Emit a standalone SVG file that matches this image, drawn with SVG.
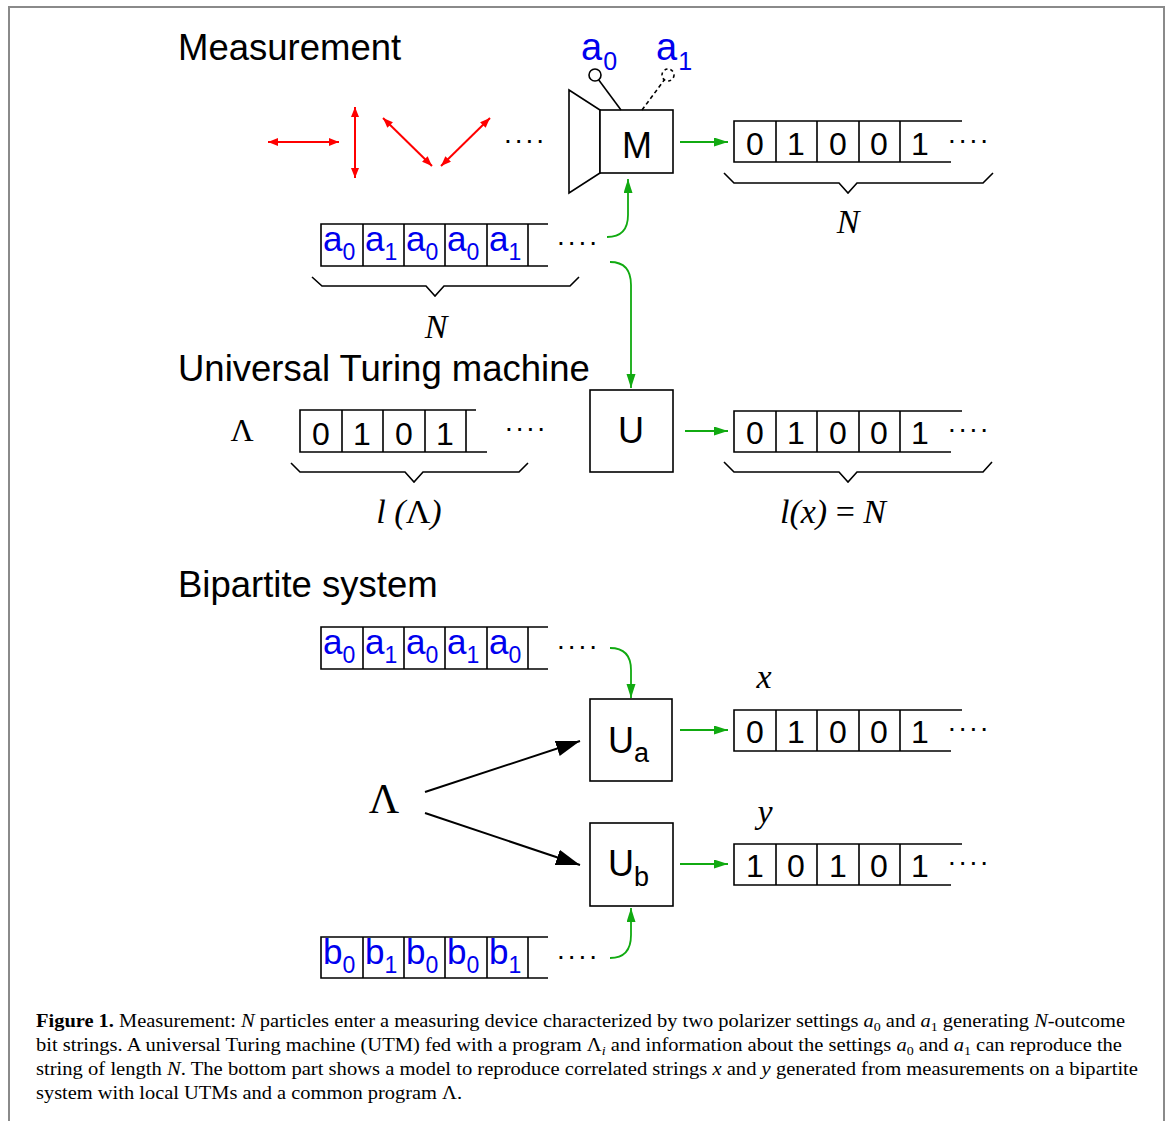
<svg xmlns="http://www.w3.org/2000/svg" width="1168" height="1121" viewBox="0 0 1168 1121">
<defs>
<style>
.t{fill:none;stroke:#000;stroke-width:1.6}
.sans{font-family:"Liberation Sans",Arial,sans-serif}
.serif{font-family:"Liberation Serif","Times New Roman",serif}
.title{font-family:"Liberation Sans",Arial,sans-serif;font-size:36.5px;fill:#000}
.bit{font-family:"Liberation Sans",Arial,sans-serif;font-size:32px;fill:#000;text-anchor:middle}
.al{font-family:"Liberation Sans",Arial,sans-serif;font-size:35px;fill:#0000ee}
.sub{font-size:23px}
.alt{font-family:"Liberation Sans",Arial,sans-serif;font-size:38px;fill:#0000ee}
.subt{font-size:25px}
.dots{font-family:"Liberation Sans",Arial,sans-serif;font-size:28px;letter-spacing:3px;fill:#000}
.box{fill:#fff;stroke:#000;stroke-width:1.6}
.lab{font-family:"Liberation Sans",Arial,sans-serif;font-size:36px;fill:#000}
.math{font-family:"Liberation Serif","Times New Roman",serif;font-style:italic;font-size:34px;fill:#000}
.red{stroke:#ff0000;stroke-width:2;fill:none}
.grn{stroke:#11aa11;stroke-width:1.8;fill:none}
.blk{stroke:#000;stroke-width:2;fill:none}
.cap{font-family:"Liberation Serif","Times New Roman",serif;font-size:19px;fill:#000}
</style>
<marker id="ar" markerUnits="userSpaceOnUse" markerWidth="12" markerHeight="10" refX="10" refY="4" orient="auto-start-reverse"><path d="M0,0 L10,4 L0,8 z" fill="#ff0000"/></marker>
<marker id="ag" markerUnits="userSpaceOnUse" markerWidth="16" markerHeight="12" refX="14" refY="4.5" orient="auto"><path d="M0,0 L14,4.5 L0,9 z" fill="#11aa11"/></marker>
<marker id="ab" markerUnits="userSpaceOnUse" markerWidth="26" markerHeight="18" refX="24" refY="8" orient="auto"><path d="M0,0 L24,8 L0,16 z" fill="#000"/></marker>
</defs>
<rect width="1168" height="1121" fill="#fff"/>
<path d="M9,1121 V7 H1164 V1121" fill="none" stroke="#8a8a8a" stroke-width="2"/>

<text class="title" x="178" y="60">Measurement</text>
<text class="title" x="178" y="381">Universal Turing machine</text>
<text class="title" x="178" y="597">Bipartite system</text>

<g id="polarizations">
<line class="red" x1="268" y1="142" x2="339" y2="142" marker-start="url(#ar)" marker-end="url(#ar)"/>
<line class="red" x1="355" y1="107" x2="355" y2="178" marker-start="url(#ar)" marker-end="url(#ar)"/>
<line class="red" x1="383" y1="118" x2="432" y2="166" marker-start="url(#ar)" marker-end="url(#ar)"/>
<line class="red" x1="441" y1="166" x2="490" y2="118" marker-start="url(#ar)" marker-end="url(#ar)"/>
<text class="dots" x="504" y="143">....</text>
</g>

<g id="M">
<polygon class="t" points="569,90 600,110 600,173 569,193"/>
<rect class="box" x="600" y="110" width="73" height="63"/>
<text class="lab" x="637" y="158" text-anchor="middle">M</text>
<line class="t" x1="621" y1="110" x2="598.6" y2="79.8"/>
<circle class="t" cx="595" cy="75" r="6"/>
<line class="t" x1="642" y1="110" x2="664.4" y2="79.8" stroke-dasharray="4,3"/>
<circle class="t" cx="668" cy="75" r="6" stroke-dasharray="3,3"/>
<text class="alt" x="581" y="60">a<tspan class="subt" dx="1" dy="10">0</tspan></text>
<text class="alt" x="656" y="60">a<tspan class="subt" dx="1" dy="10">1</tspan></text>
</g>

<g id="tapeM-out">
<path class="t" d="M962,121 H734 V162 H951 M776,121 V162 M817,121 V162 M859,121 V162 M900,121 V162"/>
<text class="bit" x="755" y="155">0</text><text class="bit" x="796" y="155">1</text><text class="bit" x="838" y="155">0</text><text class="bit" x="879" y="155">0</text><text class="bit" x="920" y="155">1</text>
<text class="dots" x="948" y="143">....</text>
<polyline class="t" points="724,173 734,183 839,183 848,193 857,183 983,183 993,173"/>
<text class="math" x="848" y="233" text-anchor="middle">N</text>
</g>

<g id="tapeA1">
<path class="t" d="M548,224 H321 V266 H548 M363,224 V266 M404,224 V266 M445,224 V266 M487,224 V266 M528,224 V266"/>
<text class="al" x="323" y="251">a<tspan class="sub" dy="9">0</tspan></text>
<text class="al" x="365" y="251">a<tspan class="sub" dy="9">1</tspan></text>
<text class="al" x="406" y="251">a<tspan class="sub" dy="9">0</tspan></text>
<text class="al" x="447" y="251">a<tspan class="sub" dy="9">0</tspan></text>
<text class="al" x="489" y="251">a<tspan class="sub" dy="9">1</tspan></text>
<text class="dots" x="557" y="245">....</text>
<polyline class="t" points="312,277 322,286 426,286 435,296 444,286 570,286 579,277"/>
<text class="math" x="436" y="338" text-anchor="middle">N</text>
</g>

<g id="U">
<rect class="box" x="590" y="390" width="83" height="82"/>
<text class="lab" x="631" y="443" text-anchor="middle">U</text>
</g>

<g id="program">
<text class="serif" x="242" y="441" font-size="32" text-anchor="middle">Λ</text>
<path class="t" d="M476,410 H300 V452 H487 M342,410 V452 M383,410 V452 M425,410 V452 M466,410 V452"/>
<text class="bit" x="321" y="445">0</text><text class="bit" x="362" y="445">1</text><text class="bit" x="404" y="445">0</text><text class="bit" x="445" y="445">1</text>
<text class="dots" x="505" y="431">....</text>
<polyline class="t" points="291,463 300,472 405,472 414,482 423,472 519,472 528,463"/>
<text class="math" x="409" y="523" text-anchor="middle">l (<tspan font-style="normal">Λ</tspan>)</text>
</g>

<g id="tapeU-out">
<path class="t" d="M962,411 H734 V452 H951 M776,411 V452 M817,411 V452 M859,411 V452 M900,411 V452"/>
<text class="bit" x="755" y="444">0</text><text class="bit" x="796" y="444">1</text><text class="bit" x="838" y="444">0</text><text class="bit" x="879" y="444">0</text><text class="bit" x="920" y="444">1</text>
<text class="dots" x="948" y="432">....</text>
<polyline class="t" points="724,462 734,472 839,472 848,482 857,472 983,472 992,462"/>
<text class="math" x="833" y="523" font-size="36" text-anchor="middle">l(x) <tspan font-style="normal">=</tspan> N</text>
</g>

<g id="tapeA2">
<path class="t" d="M548,627 H321 V669 H548 M363,627 V669 M404,627 V669 M445,627 V669 M487,627 V669 M528,627 V669"/>
<text class="al" x="323" y="654">a<tspan class="sub" dy="9">0</tspan></text>
<text class="al" x="365" y="654">a<tspan class="sub" dy="9">1</tspan></text>
<text class="al" x="406" y="654">a<tspan class="sub" dy="9">0</tspan></text>
<text class="al" x="447" y="654">a<tspan class="sub" dy="9">1</tspan></text>
<text class="al" x="489" y="654">a<tspan class="sub" dy="9">0</tspan></text>
<text class="dots" x="557" y="649">....</text>
</g>

<g id="tapeB">
<path class="t" d="M548,937 H321 V978 H548 M363,937 V978 M404,937 V978 M445,937 V978 M487,937 V978 M528,937 V978"/>
<text class="al" x="323" y="964">b<tspan class="sub" dy="9">0</tspan></text>
<text class="al" x="365" y="964">b<tspan class="sub" dy="9">1</tspan></text>
<text class="al" x="406" y="964">b<tspan class="sub" dy="9">0</tspan></text>
<text class="al" x="447" y="964">b<tspan class="sub" dy="9">0</tspan></text>
<text class="al" x="489" y="964">b<tspan class="sub" dy="9">1</tspan></text>
<text class="dots" x="557" y="959">....</text>
</g>

<g id="Lambda">
<text class="serif" x="384" y="813" font-size="42" text-anchor="middle">Λ</text>
</g>

<g id="Ua">
<rect class="box" x="590" y="699" width="82" height="82"/>
<text class="lab" x="608" y="753">U<tspan font-size="27" dy="9">a</tspan></text>
</g>

<g id="Ub">
<rect class="box" x="590" y="823" width="83" height="83"/>
<text class="lab" x="608" y="876">U<tspan font-size="27" dy="10">b</tspan></text>
</g>

<g id="tapeX">
<text class="math" x="764" y="688" text-anchor="middle">x</text>
<path class="t" d="M962,710 H734 V751 H951 M776,710 V751 M817,710 V751 M859,710 V751 M900,710 V751"/>
<text class="bit" x="755" y="743">0</text><text class="bit" x="796" y="743">1</text><text class="bit" x="838" y="743">0</text><text class="bit" x="879" y="743">0</text><text class="bit" x="920" y="743">1</text>
<text class="dots" x="948" y="731">....</text>
</g>

<g id="tapeY">
<text class="math" x="765" y="823" text-anchor="middle">y</text>
<path class="t" d="M962,844 H734 V885 H951 M776,844 V885 M817,844 V885 M859,844 V885 M900,844 V885"/>
<text class="bit" x="755" y="877">1</text><text class="bit" x="796" y="877">0</text><text class="bit" x="838" y="877">1</text><text class="bit" x="879" y="877">0</text><text class="bit" x="920" y="877">1</text>
<text class="dots" x="948" y="865">....</text>
</g>

<g id="connectors">
<line class="grn" x1="680" y1="142" x2="728" y2="142" marker-end="url(#ag)"/>
<path class="grn" d="M607,237 C621,237 628,229 628,215 V179" marker-end="url(#ag)"/>
<path class="grn" d="M610,262 C624,262 631,270 631,285 V388" marker-end="url(#ag)"/>
<line class="grn" x1="685" y1="431" x2="728" y2="431" marker-end="url(#ag)"/>
<path class="grn" d="M610,648 C624,648 631,656 631,670 V698" marker-end="url(#ag)"/>
<line class="grn" x1="680" y1="730" x2="728" y2="730" marker-end="url(#ag)"/>
<line class="grn" x1="680" y1="864" x2="728" y2="864" marker-end="url(#ag)"/>
<path class="grn" d="M610,958 C624,958 631,950 631,935 V908" marker-end="url(#ag)"/>
<line class="blk" x1="425" y1="792" x2="580" y2="741" marker-end="url(#ab)"/>
<line class="blk" x1="425" y1="813" x2="580" y2="865" marker-end="url(#ab)"/>
</g>

<g id="caption">
<text class="cap" x="36" y="1027" textLength="1089" lengthAdjust="spacingAndGlyphs"><tspan font-weight="bold">Figure 1.</tspan> Measurement: <tspan font-style="italic">N</tspan> particles enter a measuring device characterized by two polarizer settings <tspan font-style="italic">a</tspan><tspan font-size="13" dy="4">0</tspan><tspan dy="-4"> and </tspan><tspan font-style="italic">a</tspan><tspan font-size="13" dy="4">1</tspan><tspan dy="-4"> generating </tspan><tspan font-style="italic">N</tspan>-outcome</text>
<text class="cap" x="36" y="1051" textLength="1086" lengthAdjust="spacingAndGlyphs">bit strings. A universal Turing machine (UTM) fed with a program Λ<tspan font-style="italic" font-size="13" dy="4">i</tspan><tspan dy="-4"> and information about the settings </tspan><tspan font-style="italic">a</tspan><tspan font-size="13" dy="4">0</tspan><tspan dy="-4"> and </tspan><tspan font-style="italic">a</tspan><tspan font-size="13" dy="4">1</tspan><tspan dy="-4"> can reproduce the</tspan></text>
<text class="cap" x="36" y="1075" textLength="1102" lengthAdjust="spacingAndGlyphs">string of length <tspan font-style="italic">N</tspan>. The bottom part shows a model to reproduce correlated strings <tspan font-style="italic">x</tspan> and <tspan font-style="italic">y</tspan> generated from measurements on a bipartite</text>
<text class="cap" x="36" y="1099" textLength="426" lengthAdjust="spacingAndGlyphs">system with local UTMs and a common program Λ.</text>
</g>
</svg>
